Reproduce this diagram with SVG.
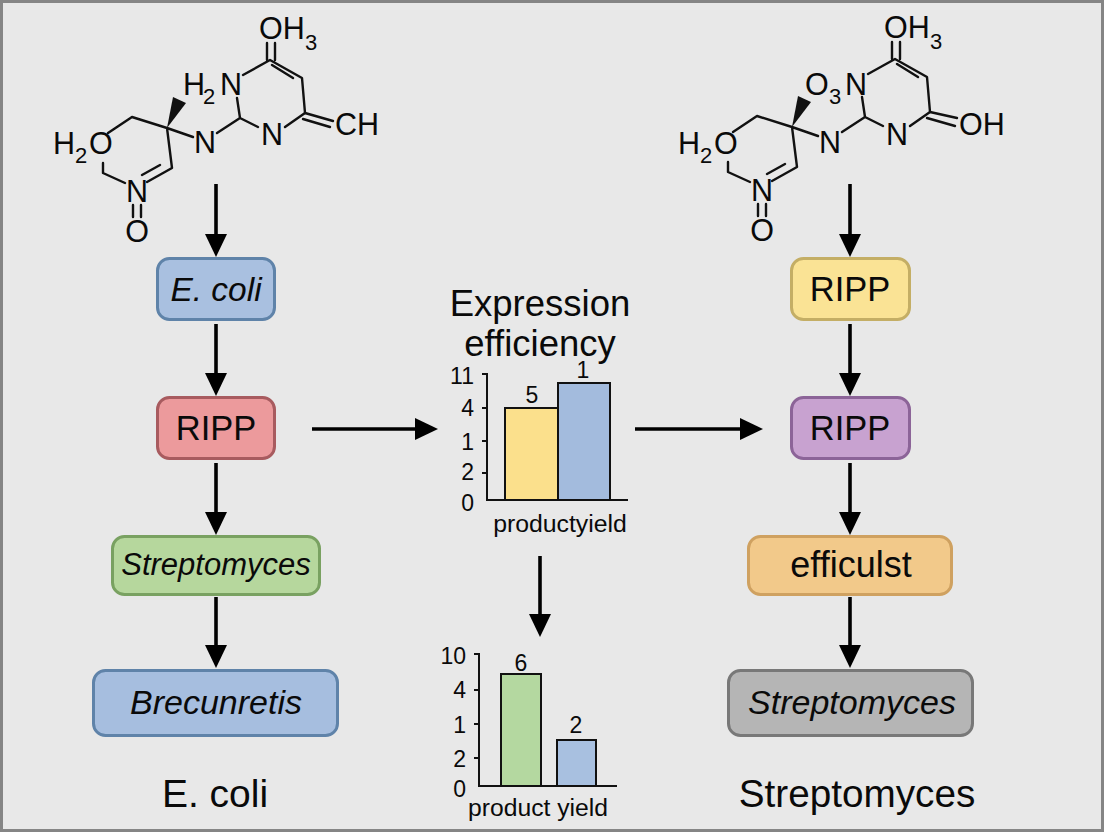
<svg xmlns="http://www.w3.org/2000/svg" xmlns:xlink="http://www.w3.org/1999/xlink" width="1104" height="832" viewBox="0 0 1104 832">
<style>
text{font-family:"Liberation Sans",Arial,sans-serif;fill:#0a0a0a}
.c{text-anchor:middle}
.i{font-style:italic}
.bond{fill:none;stroke:#111;stroke-width:2.400;stroke-linecap:round;stroke-linejoin:round}
.m{font-size:30.500px}
.s{font-size:22px}
.n{stroke-width:3}
.arrow{stroke:#000;stroke-width:3.600;fill:none;marker-end:url(#head)}
.ax{stroke:#111;stroke-width:2;fill:none}
.bar{stroke:#111;stroke-width:2}
.t{font-size:23px;text-anchor:end}
.v{font-size:23px;text-anchor:middle}
</style>
<defs>
<marker id="head" markerUnits="userSpaceOnUse" markerWidth="24" markerHeight="24" refX="2" refY="12" orient="auto" viewBox="0 0 24 24"><path d="M0 1L23 12L0 23Z" fill="#000"/></marker>
<g id="mol">
<path class="bond" d="M243 75L270 60L302 78L305 113L285 127M258 127L240 118L237 98M240 118L217 133M193 137L167 128L132 117L108 133M103 163L103 173L125 183M167 128L172 168L147 182M160 165L142 175M272 65L293 78M267 43V60M275 43V60M133 205V217M141 205V217"/>
<path d="M167 128L173 97L186 103Z" fill="#111"/>
</g>
</defs>
<rect x="1.500" y="1.500" width="1101" height="829" fill="#e8e8e8" stroke="#858585" stroke-width="3"/>

<g id="molecule-left">
<use xlink:href="#mol" href="#mol"/>
<path class="bond" d="M305 113L333 121M303 119L330 127"/>
<text class="m" x="259" y="39">OH</text><text class="s" x="305" y="50">3</text>
<text class="m" x="183" y="95">H</text><text class="s" x="203" y="104">2</text>
<text class="m c" x="231" y="95">N</text>
<text class="m c" x="205" y="153">N</text>
<text class="m c" x="272" y="145">N</text>
<text class="m" x="335" y="135">CH</text>
<text class="m" x="53" y="154">H</text><text class="s" x="75" y="163">2</text><text class="m" x="89" y="154">O</text>
<text class="m c" x="137" y="202">N</text>
<text class="m c" x="137" y="242">O</text>
</g>

<g id="molecule-right">
<use xlink:href="#mol" href="#mol" x="625" y="-1"/>
<path class="bond" d="M930 112L957 118M927 118L955 126"/>
<text class="m" x="884" y="38">OH</text><text class="s" x="930" y="49">3</text>
<text class="m" x="805" y="95">O</text><text class="s" x="829" y="104">3</text>
<text class="m c" x="856" y="95">N</text>
<text class="m c" x="830" y="153">N</text>
<text class="m c" x="897" y="145">N</text>
<text class="m" x="959" y="135">OH</text>
<text class="m" x="678" y="154">H</text><text class="s" x="700" y="163">2</text><text class="m" x="714" y="154">O</text>
<text class="m c" x="762" y="201">N</text>
<text class="m c" x="762" y="241">O</text>
</g>

<g id="connectors">
<path class="arrow" d="M216 184V236"/>
<path class="arrow" d="M216 324V375"/>
<path class="arrow" d="M216 463V514"/>
<path class="arrow" d="M216 597V647"/>
<path class="arrow" d="M850 184V236"/>
<path class="arrow" d="M850 324V375"/>
<path class="arrow" d="M850 463V514"/>
<path class="arrow" d="M850 597V647"/>
<path class="arrow" d="M312 429H417"/>
<path class="arrow" d="M635 429H742"/>
<path class="arrow" d="M540 556V616"/>
</g>

<g id="node-ecoli"><rect class="n" x="157.500" y="258.500" width="117" height="61" rx="12" fill="#a9c0e0" stroke="#5f83a9"/><text class="c i" x="216" y="301" font-size="33.500">E. coli</text></g>
<g id="node-ripp-red"><rect class="n" x="157.500" y="397.500" width="117" height="61" rx="12" fill="#ec9a9c" stroke="#a85b5f"/><text class="c" x="216" y="440" font-size="34.500">RIPP</text></g>
<g id="node-strep-green"><rect class="n" x="112.500" y="536.500" width="207" height="58" rx="12" fill="#b6d79d" stroke="#79a161"/><text class="c i" x="216" y="575" font-size="31">Streptomyces</text></g>
<g id="node-brecunretis"><rect class="n" x="93.500" y="670.500" width="244" height="65" rx="12" fill="#a6bedf" stroke="#5f83a9"/><text class="c i" x="216" y="714" font-size="34">Brecunretis</text></g>
<text class="c" x="215" y="807" font-size="39">E. coli</text>

<g id="node-ripp-yellow"><rect class="n" x="791.500" y="258.500" width="118" height="61" rx="12" fill="#fae395" stroke="#c4ae65"/><text class="c" x="850" y="301" font-size="34.500">RIPP</text></g>
<g id="node-ripp-purple"><rect class="n" x="791.500" y="397.500" width="118" height="61" rx="12" fill="#c8a2d0" stroke="#8c6498"/><text class="c" x="850" y="440" font-size="34.500">RIPP</text></g>
<g id="node-efficulst"><rect class="n" x="748.500" y="536.500" width="203" height="58" rx="12" fill="#f2c98a" stroke="#cfa160"/><text class="c" x="851" y="577" font-size="36">efficulst</text></g>
<g id="node-strep-gray"><rect class="n" x="728.500" y="670.500" width="244" height="65" rx="12" fill="#b5b5b5" stroke="#787878"/><text class="c i" x="852" y="714" font-size="34">Streptomyces</text></g>
<text class="c" x="857" y="807" font-size="38.700">Streptomyces</text>

<g id="chart-expression">
<text class="c" x="540" y="316" font-size="36.500">Expression</text>
<text class="c" x="540" y="356" font-size="36.500">efficiency</text>
<rect class="bar" x="505" y="408" width="53" height="92" fill="#fbe08c"/>
<rect class="bar" x="558" y="383" width="52" height="117" fill="#a3bbdd"/>
<path class="ax" d="M482 374H487V500H628M482 408H487M482 441H487M482 473H487"/>
<text class="t" x="474" y="384">11</text>
<text class="t" x="474" y="416">4</text>
<text class="t" x="474" y="450">1</text>
<text class="t" x="474" y="480">2</text>
<text class="t" x="474" y="511">0</text>
<text class="v" x="532" y="403">5</text>
<text class="v" x="583" y="378">1</text>
<text class="c" x="560" y="532" font-size="24.800">productyield</text>
</g>

<g id="chart-yield">
<rect class="bar" x="501" y="674" width="40" height="112" fill="#b4d8a0"/>
<rect class="bar" x="557" y="740" width="39" height="46" fill="#a8c0e0"/>
<path class="ax" d="M474 654H479V786H617M474 690H479M474 724H479M474 758H479"/>
<text class="t" x="466" y="664">10</text>
<text class="t" x="466" y="698">4</text>
<text class="t" x="466" y="733">1</text>
<text class="t" x="466" y="767">2</text>
<text class="t" x="466" y="797">0</text>
<text class="v" x="521" y="671">6</text>
<text class="v" x="576" y="733">2</text>
<text class="c" x="538" y="816" font-size="24.700">product yield</text>
</g>
</svg>
